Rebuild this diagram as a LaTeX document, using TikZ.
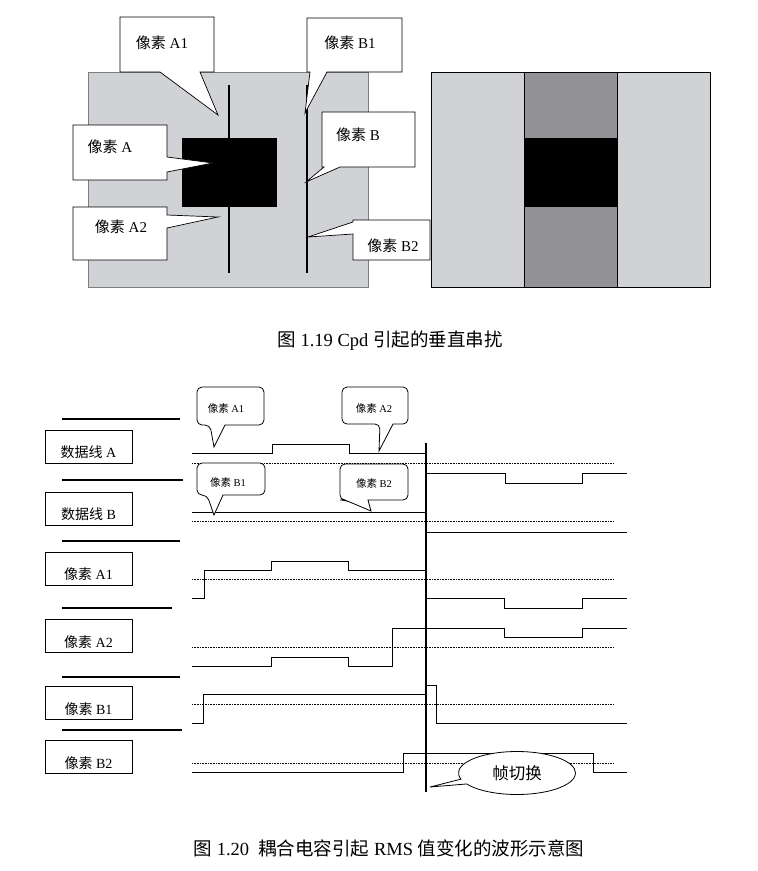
\documentclass[tikz,border=0pt]{standalone}
\usepackage{fontspec}
\setmainfont{Liberation Serif}
\newfontfamily\cjk{Noto Sans CJK SC}
\usetikzlibrary{shapes.geometric, shapes.callouts, calc}
\definecolor{PL}{RGB}{208,210,214}
\definecolor{PD}{RGB}{146,146,148}
\definecolor{PB}{RGB}{125,125,128}
\newcommand{\zh}[1]{{\cjk #1}}

\begin{document}
\begin{tikzpicture}[x=1pt, y=-1pt,
  callbox/.style={fill=white, draw=black, line width=0.7pt},
  calltext/.style={font=\fontsize{15}{17}\selectfont, inner sep=0pt},
  labbox/.style={draw, line width=0.9pt, minimum width=87pt, minimum height=33pt,
    inner sep=0pt, text height=22pt, text depth=0pt, font=\fontsize{14}{16}\selectfont},
  sep/.style={line width=1.2pt},
  sig/.style={line width=1pt},
  ref/.style={line width=0.6pt, dash pattern=on 0.8pt off 0.8pt},
  bubble/.style={fill=white, draw=black, line width=0.8pt},
  bubtext/.style={font=\fontsize{10.5}{12}\selectfont, inner sep=0pt},
  caption/.style={font=\fontsize{18.5}{21}\selectfont, inner sep=0pt}]
\useasboundingbox (0,0) rectangle (758,871);

% --- figure 1.19
\fill[PL, draw=PB, line width=0.6pt] (88,72) rectangle (368,287);
\fill[black] (182,138) rectangle (277,207);
\draw[line width=1.5pt] (229,85) -- (229,273);
\draw[line width=1.5pt] (307,85) -- (307,273);

\fill[PL] (431,72) rectangle (710,287);
\fill[PD] (524,72) rectangle (617,138);
\fill[black] (524,138) rectangle (617,207);
\fill[PD] (524,207) rectangle (617,287);
\draw[line width=0.9pt] (431,72) rectangle (710,287);
\draw[line width=0.9pt] (524,72) -- (524,287) (617,72) -- (617,287);

\draw[callbox] (120,17) -- (214,17) -- (214,72) -- (200,72) -- (218,115)
  -- (160,72) -- (120,72) -- cycle;
\draw[callbox] (307,18) -- (402,18) -- (402,72) -- (327,72) -- (305,113)
  -- (310,72) -- (307,72) -- cycle;
\draw[callbox] (322,112) -- (415,112) -- (415,167) -- (340,167) -- (306,182)
  -- (324,167) -- (322,167) -- cycle;
\draw[callbox] (73,125) -- (167,125) -- (167,157) -- (213,163) -- (167,172)
  -- (167,180) -- (73,180) -- cycle;
\draw[callbox] (73,207) -- (167,207) -- (167,215) -- (218,217) -- (167,228)
  -- (167,260) -- (73,260) -- cycle;
\draw[callbox] (353,220) -- (430,220) -- (430,260) -- (353,260) -- (353,234)
  -- (308,237) -- (353,222) -- cycle;

\node[calltext] (tA1) at (162,43)  {\zh{像素} A1};
\node[calltext] (tB1) at (350,43)  {\zh{像素} B1};
\node[calltext] (tA)  at (110,147) {\zh{像素} A};
\node[calltext] (tA2) at (121,227) {\zh{像素} A2};
\node[calltext] (tB)  at (358,135) {\zh{像素} B};
\node[calltext] (tB2) at (393,246) {\zh{像素} B2};

\node[caption] (cap1) at (390,341) {\zh{图} 1.19 Cpd \zh{引起的垂直串扰}};

% --- figure 1.20: labels
\draw[sep] (62,419) -- (180,419);
\draw[sep] (62,480) -- (183,480);
\draw[sep] (62,541) -- (180,541);
\draw[sep] (62,608) -- (172,608);
\draw[sep] (62,677) -- (180,677);
\draw[sep] (62,730) -- (182,730);

\node[labbox] (labDA) at (88.5,446.5) {\zh{数据线} A};
\node[labbox] (labDB) at (88.5,508.5) {\zh{数据线} B};
\node[labbox] (labA1) at (88.5,568.5) {\zh{像素} A1};
\node[labbox] (labA2) at (88.5,636)   {\zh{像素} A2};
\node[labbox] (labB1) at (88.5,703)   {\zh{像素} B1};
\node[labbox] (labB2) at (88.5,757)   {\zh{像素} B2};

% reference levels
\foreach \y in {463,521,579,647,704,763}
  \draw[ref] (192,\y) -- (613,\y);

% waveforms
\draw[sig] (192,453) -| (272,444) -| (349,453) -- (426,453);
\draw[sig] (426,473) -| (505,483) -| (582,473) -- (627,473);
\draw[sig] (192,512) -- (426,512);
\draw[sig] (426,532) -- (627,532);
\draw[sig] (192,598) -| (204,570) -| (271,561) -| (348,570) -- (426,570);
\draw[sig] (426,598) -| (504,608) -| (582,598) -- (627,598);
\draw[sig] (192,666) -| (271,657) -| (348,666) -| (392,628) -| (504,637)
  -| (582,628) -- (627,628);
\draw[sig] (192,723) -| (203,694) -- (426,694) |- (436,685) |- (627,723);
\draw[sig] (192,772) -| (403,753) -| (593,772) -- (627,772);

% frame switch
\draw[line width=1.1pt] (426,443) -- (426,792);

% bubbles
\draw[bubble] (214,447) -- (225,425) [rounded corners=5pt] -- (264,425)
  -- (264,387) -- (197,387) -- (197,425) -- (210,425) [sharp corners] -- cycle;
\draw[bubble] (379,451) -- (393,424) [rounded corners=5pt] -- (408,424)
  -- (408,387) -- (342,387) -- (342,424) -- (380,424) [sharp corners] -- cycle;
\draw[bubble] (214,515) -- (223,495) [rounded corners=5pt] -- (265,495)
  -- (265,463) -- (197,463) -- (197,495) -- (207,495) [sharp corners] -- cycle;
\draw[bubble] (371,511) -- (368,500) [rounded corners=5pt] -- (408,500)
  -- (408,464) -- (340,464) -- (340,500) -- (345,500) [sharp corners] -- cycle;
\node[bubtext] (bA1) at (226,408) {\zh{像素} A1};
\node[bubtext] (bA2) at (374,408) {\zh{像素} A2};
\node[bubtext] (bB1) at (228,482) {\zh{像素} B1};
\node[bubtext] (bB2) at (374,483) {\zh{像素} B2};

\node[ellipse callout, draw, fill=white, line width=0.8pt, minimum width=117pt,
  minimum height=43pt, inner sep=0pt, callout absolute pointer={(430,787)},
  callout pointer arc=14, font=\cjk\fontsize{16.5}{18}\selectfont]
  (fswitch) at (517,773) {帧切换};

\node[caption] (cap2) at (389,848)
  {\zh{图} 1.20 \ \zh{耦合电容引起} RMS \zh{值变化的波形示意图}};
\end{tikzpicture}
\end{document}
